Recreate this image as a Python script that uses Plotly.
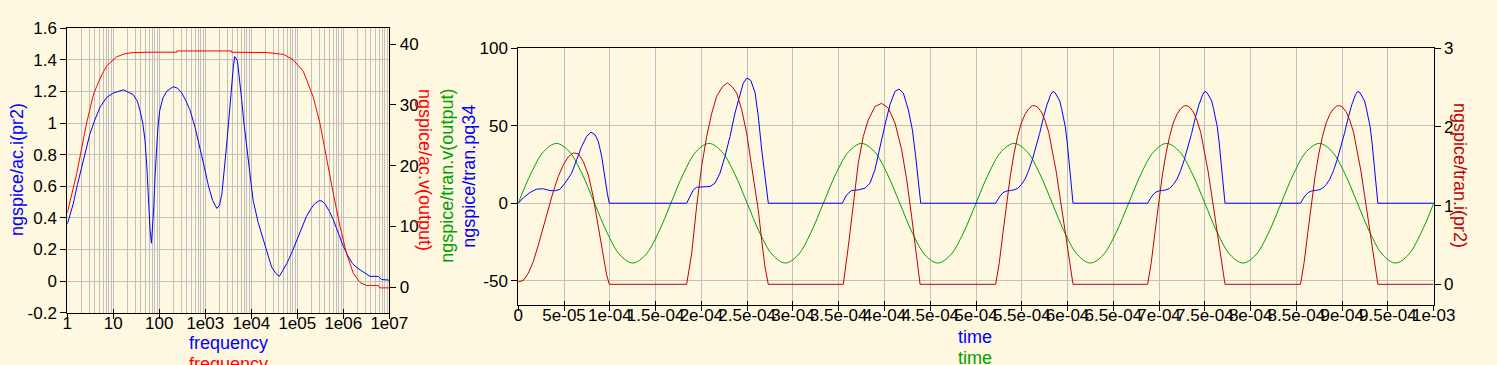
import plotly.graph_objects as go

W, H = 1497, 365

# ---------------- AC analysis (left chart) ----------------
ac_i_freq = [1, 1.349, 1.660, 2.042, 2.512, 3.090, 3.981, 5.129, 7.079, 10, 16.60, 26.92, 33.11, 38.02,
             43.65, 48.98, 53.70, 57.54, 63.10, 67.61, 72.44, 75.86, 81.28, 87.10, 93.33, 102.3, 120.2,
             144.5, 199.5, 251.2, 309.0, 380.2, 467.7, 602.6, 758.6, 955.0, 1175, 1445, 1778, 2042, 2291,
             2570, 2884, 3311, 3715, 4074, 4365, 4677, 5012, 5623, 6166, 6918, 7943, 9333, 10960, 14130,
             18200, 22390, 27540, 33880, 40740, 48980, 58880, 75860, 97720, 125900, 158500, 199500,
             239900, 302000, 346700, 398100, 501200, 602600, 794300, 1000000, 1259000, 1585000, 2089000,
             2692000, 3311000, 3802000, 5754000, 6310000, 6761000, 10000000]
ac_i_pr2 = [0.36, 0.49, 0.61, 0.72, 0.83, 0.93, 1.02, 1.10, 1.16, 1.19, 1.21, 1.18, 1.14, 1.08,
            1.00, 0.89, 0.72, 0.51, 0.32, 0.24, 0.36, 0.47, 0.68, 0.85, 0.97, 1.08, 1.16,
            1.20, 1.23, 1.22, 1.19, 1.14, 1.08, 0.97, 0.85, 0.72, 0.60, 0.51, 0.46, 0.48, 0.55,
            0.68, 0.85, 1.05, 1.23, 1.36, 1.42, 1.41, 1.39, 1.27, 1.15, 1.00, 0.85, 0.68, 0.51, 0.37,
            0.26, 0.17, 0.09, 0.05, 0.03, 0.07, 0.11, 0.18, 0.26, 0.34, 0.41, 0.46,
            0.49, 0.51, 0.505, 0.49, 0.44, 0.39, 0.30, 0.22, 0.16, 0.11, 0.08,
            0.06, 0.04, 0.03, 0.03, 0.015, 0.01, 0.006]

ac_v_freq = [1, 1.6, 2.63, 3.67, 4.34, 5.6, 7.2, 11.8, 18, 27, 60, 239, 241, 3700, 3720, 21500, 50000,
             81500, 135000, 222000, 310000, 435000, 603000, 850000, 1170000, 1650000, 2300000, 3200000,
             5750000, 6200000, 10000000]
ac_v_output = [12.2, 18.7, 27.0, 31.6, 33.0, 34.9, 36.4, 37.9, 38.4, 38.6, 38.65, 38.65, 38.86, 38.86, 38.65,
               38.6, 38.3, 37.4, 35.5, 31.3, 27.0, 20.9, 15.5, 10.0, 5.6, 2.3, 0.8, 0.3, 0.3, -0.1, -0.1]

freq_tickvals = [1, 10, 100, 1e3, 1e4, 1e5, 1e6, 1e7]
freq_ticktext = ["1", "10", "100", "1e03", "1e04", "1e05", "1e06", "1e07"]
aci_tickvals = [-0.2, 0, 0.2, 0.4, 0.6, 0.8, 1.0, 1.2, 1.4, 1.6]
aci_ticktext = ["-0.2", "0", "0.2", "0.4", "0.6", "0.8", "1", "1.2", "1.4", "1.6"]
acv_tickvals = [0, 10, 20, 30, 40]
acv_ticktext = ["0", "10", "20", "30", "40"]

# ---------------- Transient analysis (right chart), times in microseconds ----------------
t_v_us = [0, 13.9, 27.8, 41.7, 55.6, 69.4, 83.3, 97.2, 111.1, 125.0, 138.9, 152.8, 166.7, 180.6, 194.4,
          208.3, 222.2, 236.1, 250.0, 263.9, 277.8, 291.7, 305.6, 319.4, 333.3, 347.2, 361.1, 375.0,
          388.9, 402.8, 416.7, 430.6, 444.4, 458.3, 472.2, 486.1, 500.0, 513.9, 527.8, 541.7, 555.6,
          569.4, 583.3, 597.2, 611.1, 625.0, 638.9, 652.8, 666.7, 680.6, 694.4, 708.3, 722.2, 736.1,
          750.0, 763.9, 777.8, 791.7, 805.6, 819.4, 833.3, 847.2, 861.1, 875.0, 888.9, 902.8, 916.7,
          930.6, 944.4, 958.3, 972.2, 986.1, 1000.0]
tran_v_output = [0, 19.3, 33.4, 38.6, 33.4, 19.3, 0, -19.3, -33.4, -38.6, -33.4, -19.3,
                 0, 19.3, 33.4, 38.6, 33.4, 19.3, 0, -19.3, -33.4, -38.6, -33.4, -19.3,
                 0, 19.3, 33.4, 38.6, 33.4, 19.3, 0, -19.3, -33.4, -38.6, -33.4, -19.3,
                 0, 19.3, 33.4, 38.6, 33.4, 19.3, 0, -19.3, -33.4, -38.6, -33.4, -19.3,
                 0, 19.3, 33.4, 38.6, 33.4, 19.3, 0, -19.3, -33.4, -38.6, -33.4, -19.3,
                 0, 19.3, 33.4, 38.6, 33.4, 19.3, 0, -19.3, -33.4, -38.6, -33.4, -19.3, 0]

t_pq_us = [0, 5.5, 12.7, 20.0, 27.3, 34.6, 40.1, 45.5, 51.0, 58.3, 63.7, 69.2, 74.7, 79.4, 83.8, 87.4,
           91.1, 94.7, 97.2, 99.4,
           183.9, 187.6, 191.2, 194.8, 202.1, 209.4, 214.9, 220.3, 225.8, 231.3, 236.7, 242.2, 245.8,
           249.8, 253.9, 258.6, 262.2, 265.9, 269.5, 273.1,
           353.9, 358.7, 364.1, 371.4, 378.7, 384.2, 389.6, 395.1, 400.6, 406.0, 411.5, 415.9, 420.6,
           426.1, 430.5, 434.1, 437.0, 439.6,
           521.5, 525.5, 529.5, 533.5, 537.5, 541.5, 545.5, 549.5, 553.5, 557.5, 561.5, 565.5, 569.5,
           573.5, 577.5, 581.5, 584.0, 586.5, 589.5, 591.5, 593.5, 595.5, 597.5, 599.5, 601.5, 603.5, 606.0,
           687.5, 691.5, 695.5, 699.5, 703.5, 707.5, 711.5, 715.5, 719.5, 723.5, 727.5, 731.5, 735.5,
           739.5, 743.5, 747.5, 750.0, 752.5, 755.5, 757.5, 759.5, 761.5, 763.5, 765.5, 767.5, 769.5, 772.0,
           854.5, 858.5, 862.5, 866.5, 870.5, 874.5, 878.5, 882.5, 886.5, 890.5, 894.5, 898.5, 902.5,
           906.5, 910.5, 914.5, 917.0, 919.5, 922.5, 924.5, 926.5, 928.5, 930.5, 932.5, 934.5, 936.5, 939.0,
           1000.0]
tran_pq34 = [0, 3.5, 6.9, 9.1, 9.3, 8.2, 8.0, 9.0, 12.9, 19.4, 28.0, 36.6, 43.1, 45.9, 44.2, 39.9,
             30.2, 15.1, 6.5, 0,
             0, 4.3, 8.6, 10.3, 10.6, 10.8, 12.9, 19.4, 30.2, 43.1, 58.2, 71.1, 77.6,
             80.8, 79.3, 71.5, 56.0, 34.5, 15.1, 0,
             0, 5.4, 8.2, 8.6, 9.7, 12.9, 21.6, 36.6, 50.6, 63.6, 72.2, 73.7, 71.1,
             60.3, 47.4, 30.2, 15.1, 0,
             0, 4.0, 6.8, 7.9, 8.2, 8.6, 9.6, 12.0, 15.5, 21, 28, 36, 45,
             55, 63.5, 70, 72.2, 71.3, 68.5, 66, 61, 56, 49.5, 40, 29, 18, 0,
             0, 4.0, 6.8, 7.9, 8.2, 8.6, 9.6, 12.0, 15.5, 21, 28, 36, 45,
             55, 63.5, 70, 72.2, 71.3, 68.5, 66, 61, 56, 49.5, 40, 29, 18, 0,
             0, 4.0, 6.8, 7.9, 8.2, 8.6, 9.6, 12.0, 15.5, 21, 28, 36, 45,
             55, 63.5, 70, 72.2, 71.3, 68.5, 66, 61, 56, 49.5, 40, 29, 18, 0,
             0]

t_i_us = [0, 5.5, 10.9, 16.4, 21.9, 27.3, 32.8, 38.2, 43.7, 49.2, 54.6, 60.1, 65.6, 71.0, 76.5, 81.9,
          87.4, 92.9, 96.5, 99.4,
          183.9, 189.4, 194.8, 200.3, 205.8, 211.2, 216.7, 222.9, 228.4, 233.8, 238.6, 244.0, 249.5,
          254.9, 258.6, 262.2, 265.9, 269.5, 273.1,
          355.0, 360.5, 366.0, 371.4, 376.9, 382.3, 389.6, 396.9, 404.2, 411.5, 418.8, 424.3, 429.7,
          434.1, 438.9,
          521.5, 525.5, 529.5, 533.5, 537.5, 541.5, 545.5, 549.5, 553.5, 557.5, 561.5, 564.5, 567.5,
          571.5, 575.5, 579.5, 583.5, 587.5, 591.5, 595.5, 599.5, 603.5, 606.0,
          687.5, 691.5, 695.5, 699.5, 703.5, 707.5, 711.5, 715.5, 719.5, 723.5, 727.5, 730.5, 733.5,
          737.5, 741.5, 745.5, 749.5, 753.5, 757.5, 761.5, 765.5, 769.5, 772.0,
          854.5, 858.5, 862.5, 866.5, 870.5, 874.5, 878.5, 882.5, 886.5, 890.5, 894.5, 897.5, 900.5,
          904.5, 908.5, 912.5, 916.5, 920.5, 924.5, 928.5, 932.5, 936.5, 939.0,
          1000.0]
tran_i_pr2 = [0.03, 0.05, 0.14, 0.29, 0.50, 0.73, 0.97, 1.18, 1.37, 1.52, 1.62, 1.67, 1.66, 1.56, 1.39, 1.11,
              0.73, 0.35, 0.12, 0,
              0, 0.39, 0.99, 1.50, 1.88, 2.17, 2.39, 2.51, 2.56, 2.51, 2.43, 2.22, 1.92,
              1.50, 1.22, 0.94, 0.56, 0.22, 0,
              0, 0.48, 1.03, 1.54, 1.88, 2.09, 2.26, 2.30, 2.24, 2.05, 1.71, 1.33, 0.86,
              0.48, 0,
              0, 0.28, 0.66, 1.03, 1.38, 1.66, 1.88, 2.05, 2.16, 2.23, 2.27, 2.27, 2.25,
              2.19, 2.08, 1.93, 1.70, 1.44, 1.13, 0.82, 0.49, 0.18, 0,
              0, 0.28, 0.66, 1.03, 1.38, 1.66, 1.88, 2.05, 2.16, 2.23, 2.27, 2.27, 2.25,
              2.19, 2.08, 1.93, 1.70, 1.44, 1.13, 0.82, 0.49, 0.18, 0,
              0, 0.28, 0.66, 1.03, 1.38, 1.66, 1.88, 2.05, 2.16, 2.23, 2.27, 2.27, 2.25,
              2.19, 2.08, 1.93, 1.70, 1.44, 1.13, 0.82, 0.49, 0.18, 0,
              0]

time_tickvals = [0, 5e-05, 1e-04, 1.5e-04, 2e-04, 2.5e-04, 3e-04, 3.5e-04, 4e-04, 4.5e-04, 5e-04,
                 5.5e-04, 6e-04, 6.5e-04, 7e-04, 7.5e-04, 8e-04, 8.5e-04, 9e-04, 9.5e-04, 1e-03]
time_ticktext = ["0", "5e-05", "1e-04", "1.5e-04", "2e-04", "2.5e-04", "3e-04", "3.5e-04", "4e-04",
                 "4.5e-04", "5e-04", "5.5e-04", "6e-04", "6.5e-04", "7e-04", "7.5e-04", "8e-04",
                 "8.5e-04", "9e-04", "9.5e-04", "1e-03"]
tv_tickvals = [-50, 0, 50, 100]
tv_ticktext = ["-50", "0", "50", "100"]
ti_tickvals = [0, 1, 2, 3]
ti_ticktext = ["0", "1", "2", "3"]

# ---------------- styling ----------------
BG = "#FFF8E0"
GRID = "#C0C0C0"
FONT = "Liberation Sans, Arial, sans-serif"
BLUE, RED, GREEN, DRED = "#0000FF", "#FF0000", "#00A000", "#BE0000"

def fx(p):
    return p / W

def fy(p):
    return 1 - p / H

fig = go.Figure()
fig.add_trace(go.Scatter(x=ac_i_freq, y=ac_i_pr2, xaxis="x", yaxis="y", mode="lines",
                         line=dict(color=BLUE, width=1)))
fig.add_trace(go.Scatter(x=ac_v_freq, y=ac_v_output, xaxis="x", yaxis="y2", mode="lines",
                         line=dict(color=RED, width=1)))
fig.add_trace(go.Scatter(x=[t * 1e-6 for t in t_v_us], y=tran_v_output, xaxis="x2", yaxis="y3",
                         mode="lines", line=dict(color=GREEN, width=1, shape="spline")))
fig.add_trace(go.Scatter(x=[t * 1e-6 for t in t_pq_us], y=tran_pq34, xaxis="x2", yaxis="y3",
                         mode="lines", line=dict(color=BLUE, width=1)))
fig.add_trace(go.Scatter(x=[t * 1e-6 for t in t_i_us], y=tran_i_pr2, xaxis="x2", yaxis="y4",
                         mode="lines", line=dict(color=DRED, width=1)))
# empty traces that register the tick-only overlay axes (outer half of the crossing x ticks)
fig.add_trace(go.Scatter(x=[], y=[], xaxis="x3", yaxis="y", mode="lines", hoverinfo="skip"))
fig.add_trace(go.Scatter(x=[], y=[], xaxis="x4", yaxis="y3", mode="lines", hoverinfo="skip"))

tickfont = dict(family=FONT, size=17, color="black")
common = dict(showline=True, linecolor="black", linewidth=1, ticks="outside", ticklen=6,
              tickcolor="black", tickfont=tickfont, zeroline=False, tickangle=0, automargin=False)
xcommon = dict(common, ticks="inside", ticklen=4, ticklabelstandoff=-5)
tickonly = dict(ticks="outside", ticklen=5, tickcolor="black", showticklabels=False, showgrid=False,
                showline=False, zeroline=False, automargin=False)

minor_log = [m * 10 ** d for d in range(7) for m in range(2, 10)]

fig.update_layout(
    template="none",
    width=W, height=H, margin=dict(l=0, r=0, t=0, b=0, pad=0), autosize=False,
    paper_bgcolor=BG, plot_bgcolor=BG, showlegend=False,
    font=dict(family=FONT, size=17, color="black"),
    xaxis=dict(type="log", domain=[fx(67.3), fx(389.3)], range=[0, 7], anchor="y",
               tickmode="array", tickvals=freq_tickvals, ticktext=freq_ticktext,
               showgrid=True, gridcolor=GRID, gridwidth=1, mirror=True,
               minor=dict(tickmode="array", tickvals=minor_log, showgrid=True, gridcolor=GRID,
                          gridwidth=1, ticks=""),
               **xcommon),
    xaxis3=dict(type="log", overlaying="x", anchor="y", side="bottom", range=[0, 7],
                tickmode="array", tickvals=freq_tickvals, **tickonly),
    yaxis=dict(domain=[fy(312.7), fy(28.2)], range=[-0.2, 1.6], anchor="x",
               tickmode="array", tickvals=aci_tickvals, ticktext=aci_ticktext,
               showgrid=True, gridcolor=GRID, gridwidth=1, **common),
    yaxis2=dict(overlaying="y", side="right", anchor="x", range=[-4.18, 42.6],
                tickmode="array", tickvals=acv_tickvals, ticktext=acv_ticktext,
                showgrid=False, **common),
    xaxis2=dict(domain=[fx(518.3), fx(1433.7)], range=[0, 1e-3], anchor="y3",
                tickmode="array", tickvals=time_tickvals, ticktext=time_ticktext,
                showgrid=True, gridcolor=GRID, gridwidth=1, mirror=True, **xcommon),
    xaxis4=dict(overlaying="x2", anchor="y3", side="bottom", range=[0, 1e-3],
                tickmode="array", tickvals=time_tickvals, **tickonly),
    yaxis3=dict(domain=[fy(305), fy(48.3)], range=[-65.7, 100], anchor="x2",
                tickmode="array", tickvals=tv_tickvals, ticktext=tv_ticktext,
                showgrid=True, gridcolor=GRID, gridwidth=1, **common),
    yaxis4=dict(overlaying="y3", side="right", anchor="x2", range=[-0.263, 3],
                tickmode="array", tickvals=ti_tickvals, ticktext=ti_ticktext,
                showgrid=False, **common),
)

def title(text, x, y, color, angle=0):
    fig.add_annotation(text=text, x=fx(x), y=fy(y), xref="paper", yref="paper",
                       xanchor="center", yanchor="middle", showarrow=False, textangle=angle,
                       font=dict(family=FONT, size=18, color=color))

title("ngspice/ac.i(pr2)", 17, 170, BLUE, -90)
title("ngspice/ac.v(output)", 425, 170, RED, 90)
title("ngspice/tran.v(output)", 446.7, 176, GREEN, -90)
title("ngspice/tran.pq34", 468.3, 176.5, BLUE, -90)
title("ngspice/tran.i(pr2)", 1460, 175, DRED, 90)
title("frequency", 228, 343, BLUE)
title("frequency", 228, 364, RED)
title("time", 975, 337, BLUE)
title("time", 975, 358, GREEN)

fig.write_html("out.html", config={"displayModeBar": False},
               post_script="document.body.style.margin='0px';document.body.style.overflow='hidden';")
